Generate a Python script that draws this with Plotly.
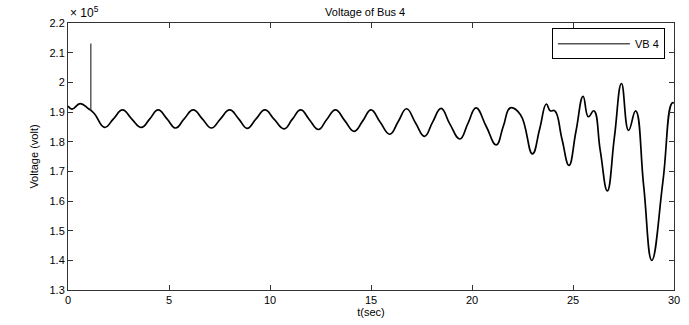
import plotly.graph_objects as go

# Bus 4 voltage trace (values in units of 1e5 V)
t_sec = [0.0, 0.2, 0.6, 1.0, 1.3, 1.81, 2.25, 2.7, 3.15, 3.63, 4.05, 4.46, 4.9, 5.33,
         5.75, 6.2, 6.65, 7.1, 7.55, 8.0, 8.45, 8.87, 9.3, 9.75, 10.2, 10.7, 11.1,
         11.52, 11.95, 12.4, 12.8, 13.24, 13.7, 14.17, 14.6, 15.0, 15.45, 15.93,
         16.35, 16.76, 17.2, 17.65, 18.05, 18.47, 18.9, 19.4, 19.8, 20.2, 20.7,
         21.2, 21.55, 21.9, 22.4, 22.99, 23.35, 23.68, 23.87, 24.1, 24.45, 24.8,
         25.15, 25.5, 25.76, 26.03, 26.35, 26.7, 27.05, 27.4, 27.75, 28.1, 28.5,
         28.9, 29.45, 29.9, 30.0]
vb4 = [1.920, 1.910, 1.928, 1.912, 1.895, 1.848, 1.877, 1.907, 1.877, 1.848, 1.877,
       1.907, 1.877, 1.846, 1.877, 1.907, 1.877, 1.846, 1.877, 1.907, 1.877, 1.845,
       1.876, 1.907, 1.876, 1.843, 1.875, 1.907, 1.874, 1.841, 1.874, 1.907, 1.871,
       1.835, 1.871, 1.907, 1.866, 1.825, 1.868, 1.911, 1.864, 1.818, 1.866, 1.912,
       1.860, 1.809, 1.862, 1.914, 1.852, 1.789, 1.852, 1.914, 1.891, 1.759, 1.843,
       1.927, 1.904, 1.904, 1.810, 1.720, 1.836, 1.953, 1.884, 1.904, 1.770, 1.634,
       1.815, 1.996, 1.838, 1.904, 1.650, 1.400, 1.665, 1.930, 1.930]

# Switching transient spike
spike_t = [1.13, 1.13]
spike_v = [1.905, 2.131]

x_ticks = [0, 5, 10, 15, 20, 25, 30]
y_ticks = [1.3, 1.4, 1.5, 1.6, 1.7, 1.8, 1.9, 2.0, 2.1, 2.2]

FONT = "Liberation Sans, Arial, sans-serif"

fig = go.Figure()
fig.add_trace(go.Scatter(
    x=t_sec, y=vb4, mode="lines", name="VB 4", showlegend=False,
    line=dict(color="black", width=1.7, shape="spline", smoothing=1.3),
))
fig.add_trace(go.Scatter(
    x=spike_t, y=spike_v, mode="lines", showlegend=False,
    line=dict(color="#333333", width=1.2),
))
# legend entry drawn with a thin line sample
fig.add_trace(go.Scatter(
    x=[None], y=[None], mode="lines", name="VB 4",
    line=dict(color="black", width=1),
))

axis_common = dict(
    showline=True, linecolor="#333333", linewidth=1, mirror="ticks",
    ticks="inside", ticklen=5, tickcolor="#333333", tickwidth=1,
    showgrid=False, zeroline=False,
    tickfont=dict(family=FONT, size=11, color="black"),
)

fig.update_layout(
    width=689, height=325,
    margin=dict(l=68, r=9, t=23, b=28),
    paper_bgcolor="white", plot_bgcolor="white",
    font=dict(family=FONT, size=11, color="black"),
    title=dict(text="Voltage of Bus 4", x=0.53, xanchor="center", y=0.975,
               yanchor="top", font=dict(family=FONT, size=11, color="black")),
    xaxis=dict(range=[0, 30], tickvals=x_ticks,
               title=dict(text="t(sec)", standoff=2,
                          font=dict(family=FONT, size=11, color="black")),
               **axis_common),
    yaxis=dict(range=[1.3, 2.2], tickvals=y_ticks,
               title=dict(text="Voltage (volt)", standoff=8,
                          font=dict(family=FONT, size=11, color="black")),
               **axis_common),
    legend=dict(x=0.985, y=0.98, xanchor="right", yanchor="top",
                bgcolor="white", bordercolor="black", borderwidth=1,
                itemwidth=72, font=dict(family=FONT, size=11, color="black"),
                tracegroupgap=0),
    showlegend=True,
    annotations=[dict(text="× 10<sup>5</sup>", xref="paper", yref="paper",
                      x=0.0, y=1.0, xanchor="left", yanchor="bottom",
                      showarrow=False, yshift=1,
                      font=dict(family=FONT, size=12, color="black"))],
)

fig.write_html("out.html")
